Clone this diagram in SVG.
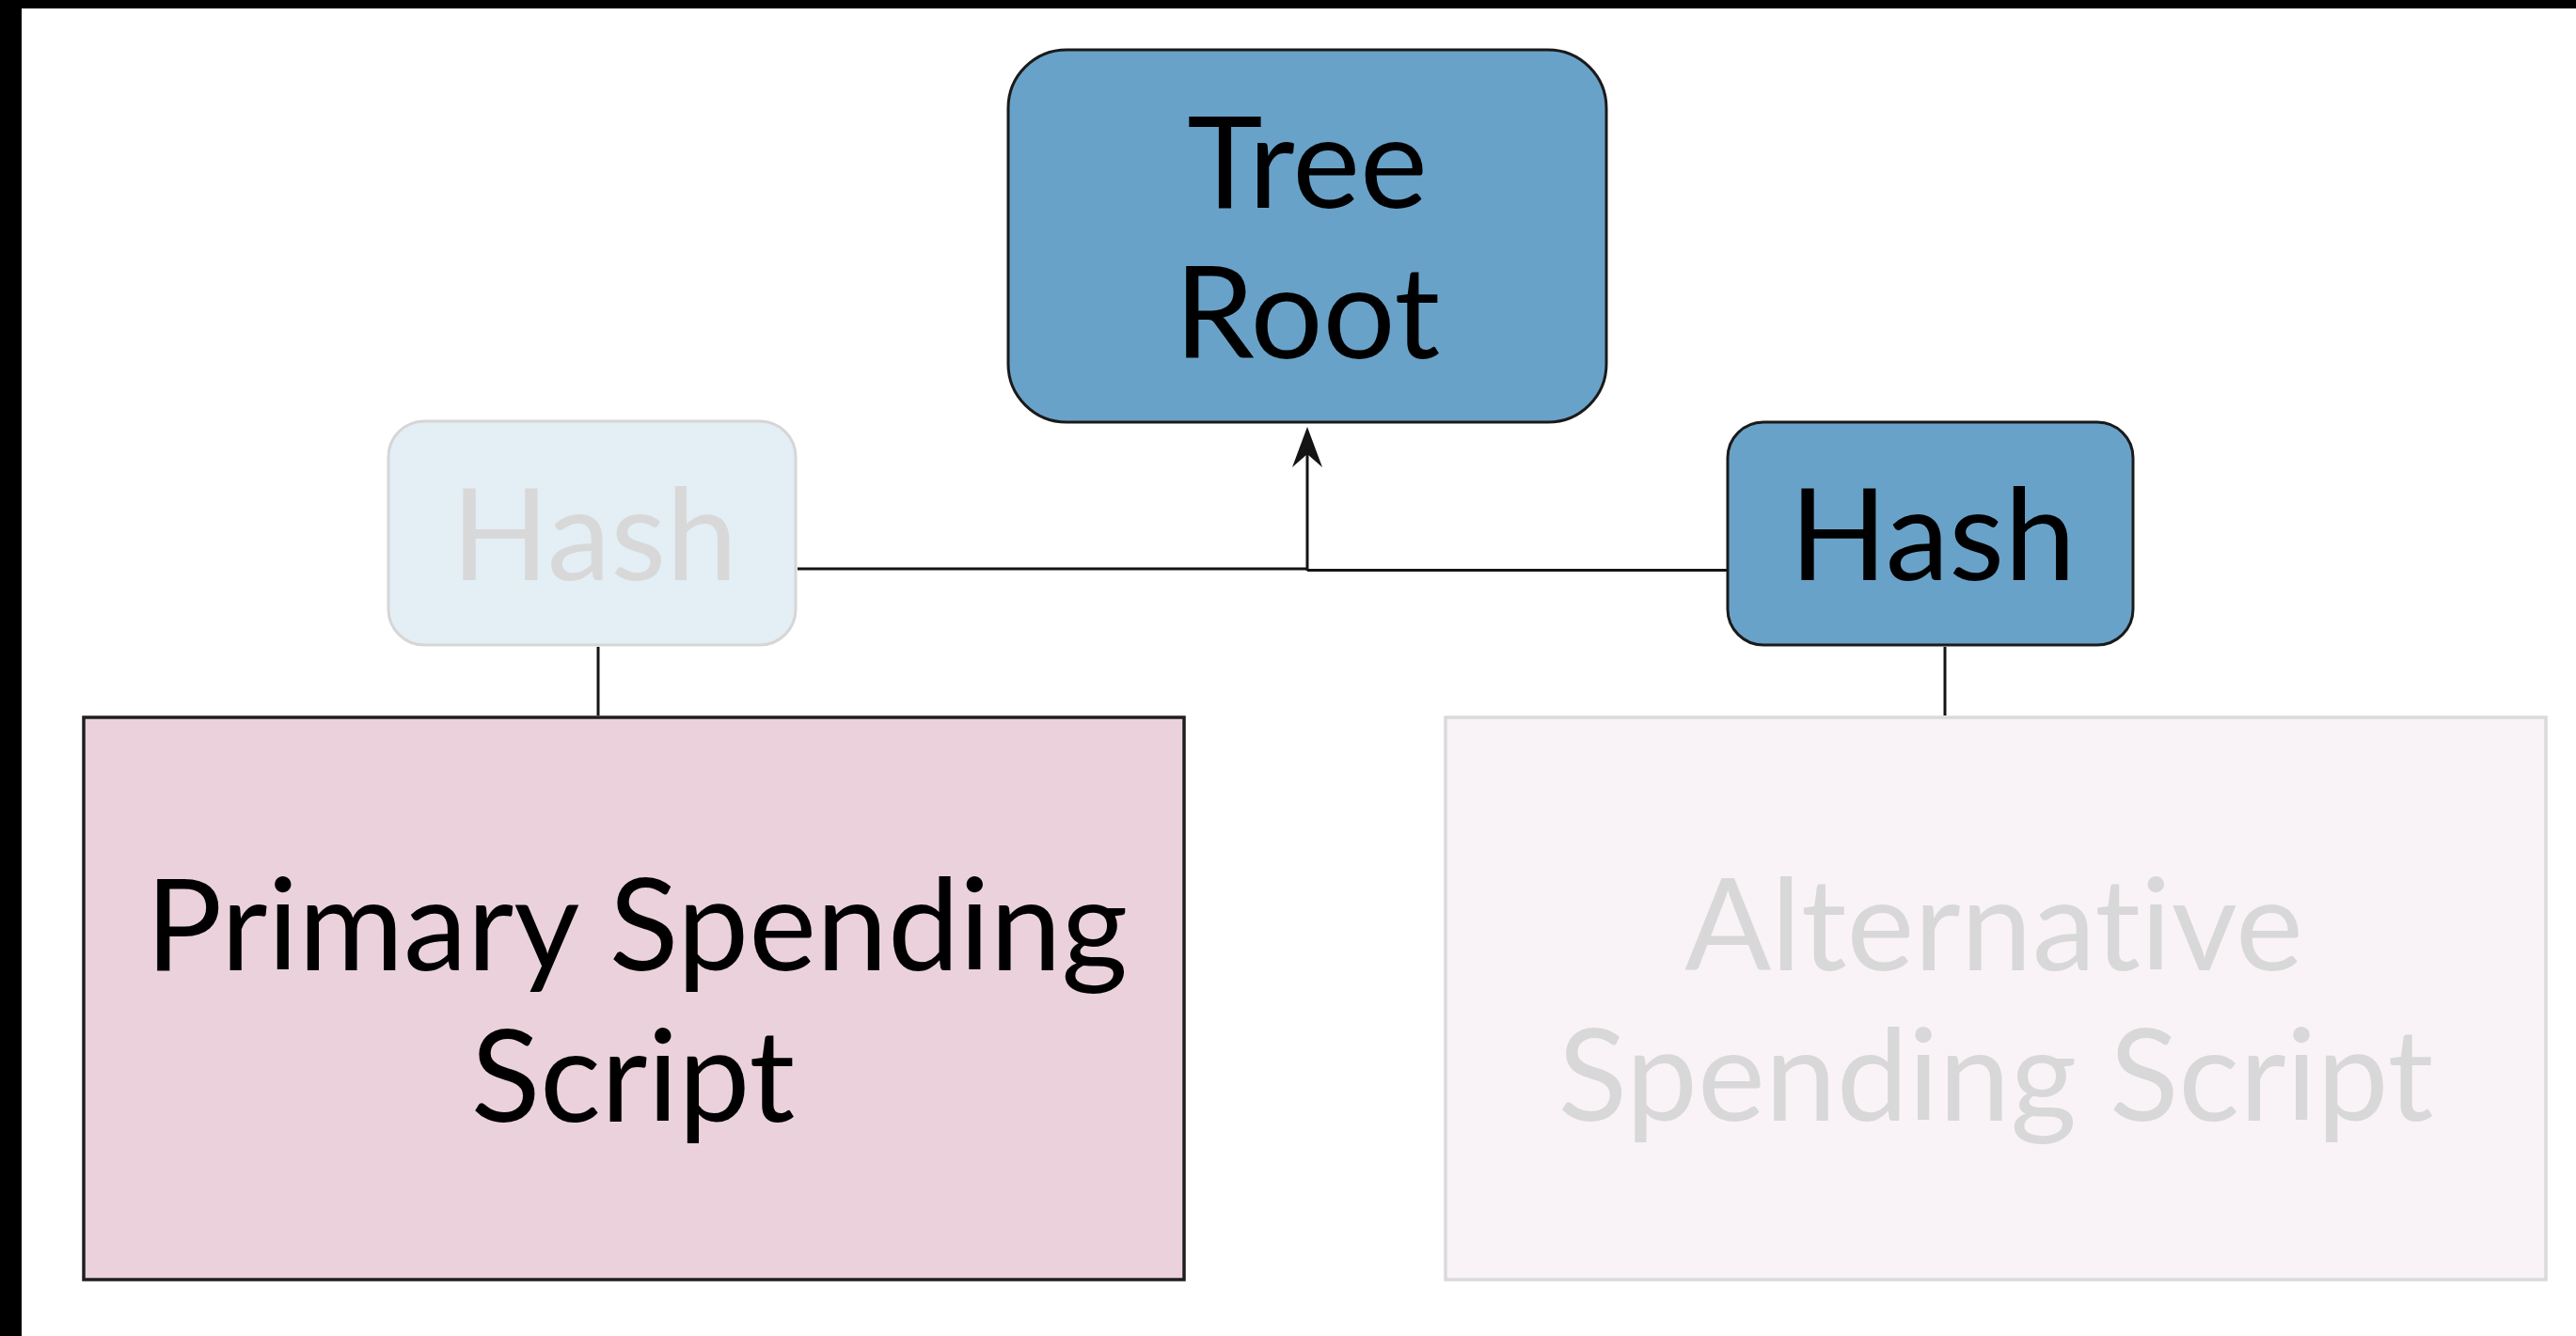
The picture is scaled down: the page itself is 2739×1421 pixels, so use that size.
<svg xmlns="http://www.w3.org/2000/svg" width="2739" height="1421" viewBox="0 0 2739 1421">
  <defs>
    <style>
      .lbl { font-family: Lato, "Open Sans", "Liberation Sans", sans-serif; font-size: 136px; text-anchor: middle; font-variant-ligatures: none; font-feature-settings: "liga" 0; }
      .dark { fill: #000000; }
      .faded { fill: #d8d8d8; }
      .active { fill: #69a2c8; stroke: #1a1a1a; stroke-width: 3; }
      .inactive { fill: #e3eef5; stroke: #d6d6d6; stroke-width: 3; }
      .edge { fill: none; stroke: #141414; stroke-width: 3; }
    </style>
    <marker id="arrow" markerUnits="userSpaceOnUse" markerWidth="46" markerHeight="34" viewBox="0 0 46 34" refX="14" refY="17" orient="auto">
      <path d="M0,1 L43,17 L0,33 L14,17 Z" fill="#141414"/>
    </marker>
  </defs>

  <rect x="0" y="0" width="2739" height="1421" fill="#ffffff"/>
  <!-- frame edges -->
  <rect x="0" y="0" width="2739" height="9" fill="#000000"/>
  <rect x="0" y="0" width="23" height="1421" fill="#000000"/>

  <g id="connectors">
    <path class="edge" d="M848,605 L1390,605"/>
    <path class="edge" d="M1836,606.5 L1390,606.5"/>
    <path class="edge" d="M1390,607 L1390,483" marker-end="url(#arrow)"/>
    <path class="edge" d="M636,688 L636,761"/>
    <path class="edge" d="M2068,688 L2068,761"/>
  </g>

  <g id="tree-root">
    <rect class="active" x="1072" y="53" width="636" height="396" rx="62" ry="62"/>
    <text class="lbl dark" x="1390" y="221">Tree</text>
    <text class="lbl dark" x="1390" y="381">Root</text>
  </g>

  <g id="hash-left">
    <rect class="inactive" x="413" y="448" width="433" height="238" rx="38" ry="38"/>
    <text class="lbl faded" x="632" y="617">Hash</text>
  </g>

  <g id="hash-right">
    <rect class="active" x="1837" y="449" width="431" height="237" rx="38" ry="38"/>
    <text class="lbl dark" x="2055" y="617">Hash</text>
  </g>

  <g id="primary-script">
    <rect x="89" y="763" width="1170" height="598" fill="#ead1dc" stroke="#1f1f1f" stroke-width="3.5"/>
    <text class="lbl dark" x="677" y="1032">Primary Spending</text>
    <text class="lbl dark" x="673" y="1193">Script</text>
  </g>

  <g id="alternative-script">
    <rect x="1537" y="763" width="1170" height="598" fill="#f9f3f7" stroke="#dadada" stroke-width="3.5"/>
    <text class="lbl faded" x="2120" y="1032">Alternative</text>
    <text class="lbl faded" x="2122" y="1192">Spending Script</text>
  </g>
</svg>
